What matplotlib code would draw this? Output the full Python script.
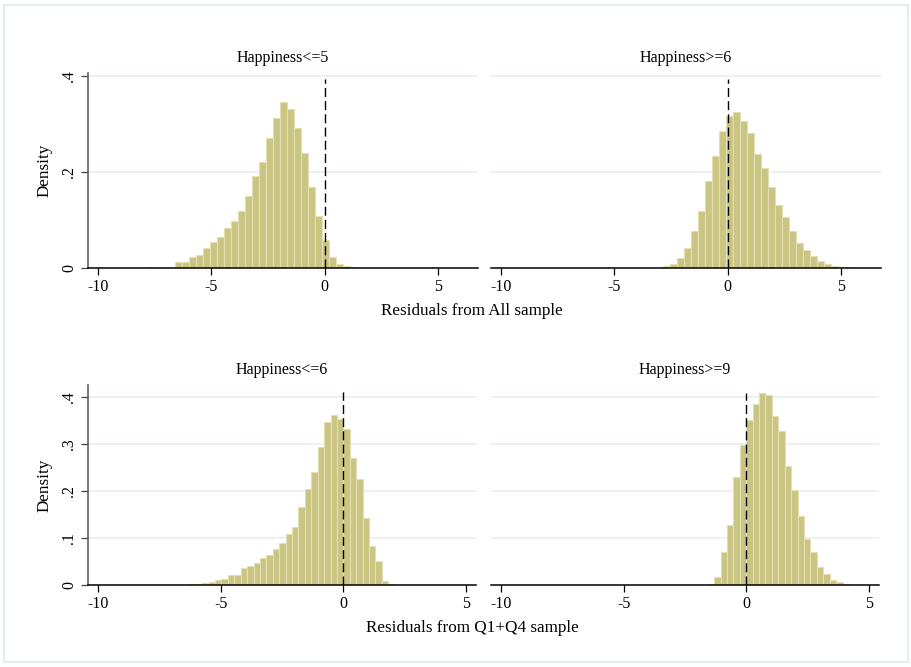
import numpy as np
import matplotlib
matplotlib.use("Agg")
import matplotlib.pyplot as plt
from matplotlib.patches import Rectangle

plt.rcParams['font.family'] = ['Liberation Serif', 'DejaVu Serif']

# panel titles and axis labels
titles = ["Happiness<=5", "Happiness>=6", "Happiness<=6", "Happiness>=9"]
row_labels = ["Residuals from All sample", "Residuals from Q1+Q4 sample"]

# histogram bins: first edge and bin width per panel
bin_start = [-8.785, -3.487, -7.33, -1.572]
bin_width = [0.309, 0.309, 0.262, 0.262]

# densities, left to right
tl_heights = [0.0014, 0.0005, 0.0015, 0.002, 0.002, 0.003, 0.003,
              0.013, 0.013, 0.024, 0.027, 0.043, 0.055, 0.066, 0.083,
              0.098, 0.120, 0.151, 0.191, 0.221, 0.270, 0.312, 0.345,
              0.331, 0.292, 0.239, 0.169, 0.109, 0.059, 0.024, 0.009,
              0.004, 0.002]
tr_heights = [0.001, 0.001, 0.005, 0.009, 0.021, 0.042, 0.078, 0.120,
              0.181, 0.234, 0.285, 0.316, 0.324, 0.306, 0.281, 0.238,
              0.208, 0.169, 0.131, 0.106, 0.077, 0.053, 0.039, 0.026,
              0.015, 0.009, 0.005, 0.003, 0.002, 0.001, 0.001, 0.001]
bl_heights = [0.001, 0.001, 0.001, 0.001, 0.002,
              0.002, 0.004, 0.008, 0.011, 0.014, 0.021, 0.022, 0.036,
              0.040, 0.047, 0.057, 0.064, 0.077, 0.090, 0.109, 0.124,
              0.166, 0.204, 0.240, 0.294, 0.346, 0.361, 0.352, 0.331,
              0.271, 0.225, 0.143, 0.083, 0.051, 0.009, 0.003, 0.001]
br_heights = [0.002, 0.018, 0.071, 0.128, 0.230, 0.297, 0.350, 0.384,
              0.407, 0.403, 0.360, 0.327, 0.253, 0.203, 0.146, 0.098,
              0.070, 0.038, 0.025, 0.012, 0.006, 0.002, 0.001]
heights = [tl_heights, tr_heights, bl_heights, br_heights]

top_yticks = [0, 0.2, 0.4]
top_ylabels = ["0", ".2", ".4"]
bot_yticks = [0, 0.1, 0.2, 0.3, 0.4]
bot_ylabels = ["0", ".1", ".2", ".3", ".4"]
xticks = [-10, -5, 0, 5]

W, H = 912, 667
BAR = "#cbc584"
BAR_EDGE = "#e4dfb2"
GRID = "#e8f0f2"

fig = plt.figure(figsize=(W / 100, H / 100), dpi=100)
fig.patch.set_facecolor("white")
fig.patches.append(Rectangle((4 / W, 5 / H), 904 / W, 657 / H,
                             transform=fig.transFigure, fill=False,
                             edgecolor="#e6edf0", linewidth=1.5))


def px_axes(x0, y0, x1, y1):
    return fig.add_axes([x0 / W, 1 - y1 / H, (x1 - x0) / W, (y1 - y0) / H])


# pixel boxes (left, top, right, bottom)
boxes = [(88, 73.3, 477.7, 268.3), (491, 73.3, 880.7, 268.3),
         (88, 385, 476, 585.3), (491, 385, 879, 585.3)]
xlims = [(-10.45, 6.75), (-10.45, 6.75), (-10.42, 5.42), (-10.42, 5.42)]
ylims = [(0, 0.405), (0, 0.405), (0, 0.425), (0, 0.425)]
vtop = [0.394, 0.394, 0.411, 0.407]

for i in range(4):
    ax = px_axes(*boxes[i])
    h = np.array(heights[i])
    edges = bin_start[i] + bin_width[i] * np.arange(len(h))
    ax.bar(edges, h, width=bin_width[i], align="edge", color=BAR,
           edgecolor=BAR_EDGE, linewidth=0.8, zorder=2)
    ax.vlines(0, 0, vtop[i], colors="black", linestyles=(0, (6.5, 3)),
              linewidth=1.0, zorder=3)
    ax.set_xlim(*xlims[i])
    ax.set_ylim(*ylims[i])

    top = i < 2
    yt = top_yticks if top else bot_yticks
    yl = top_ylabels if top else bot_ylabels
    for v in yt[1:]:
        ax.axhline(v, color=GRID, linewidth=1.2, zorder=1)
    ax.set_yticks(yt)
    ax.set_xticks(xticks)
    ax.set_xticklabels([str(t) for t in xticks], fontsize=11.5)
    ax.tick_params(axis="x", direction="out", length=5, width=0.9,
                   pad=3, color="black")

    for s in ["top", "right"]:
        ax.spines[s].set_visible(False)
    ax.spines["bottom"].set_color("black")
    ax.spines["bottom"].set_linewidth(1.1)

    if i % 2 == 0:
        ax.set_yticklabels(yl, fontsize=11.5, rotation=90, va="center")
        ax.tick_params(axis="y", direction="out", length=5, width=0.9,
                       pad=3, color="#444444")
        ax.spines["left"].set_color("#555555")
        ax.spines["left"].set_linewidth(1.1)
        ax.set_ylabel("Density", fontsize=12.3, labelpad=6)
    else:
        ax.spines["left"].set_visible(False)
        ax.tick_params(axis="y", left=False, labelleft=False)

    ax.set_title(titles[i], fontsize=11.5, pad=8)

fig.text(472 / W, 1 - 311 / H, row_labels[0], ha="center", va="center",
         fontsize=12.3)
fig.text(472 / W, 1 - 628 / H, row_labels[1], ha="center", va="center",
         fontsize=12.3)

fig.savefig("out.png", dpi=100, facecolor="white")
